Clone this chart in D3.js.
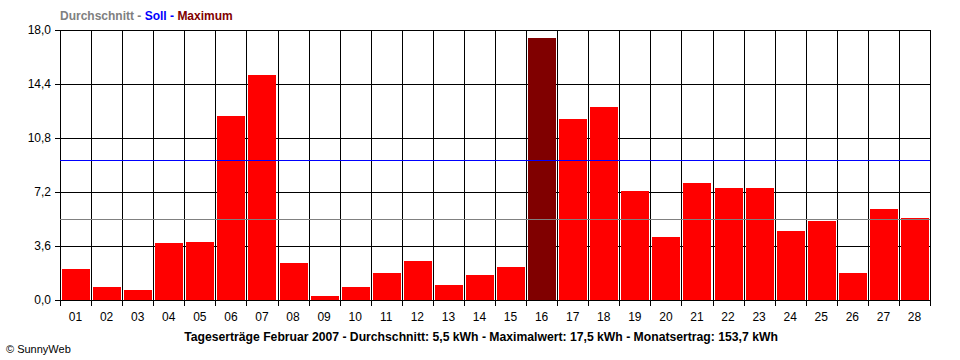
<!DOCTYPE html>
<html>
<head>
<meta charset="utf-8">
<script src="https://cdn.jsdelivr.net/npm/d3@7"></script>
<style>
  html, body { margin: 0; padding: 0; background: #fff; }
  svg { display: block; }
  text { font-family: "Liberation Sans", Arial, sans-serif; }
</style>
</head>
<body>
<svg id="chart" width="960" height="360"></svg>
<script>
const days = ["01","02","03","04","05","06","07","08","09","10","11","12","13","14","15","16","17","18","19","20","21","22","23","24","25","26","27","28"];
const values = [2.1,0.9,0.7,3.8,3.9,12.3,15.0,2.5,0.3,0.9,1.8,2.6,1.0,1.7,2.2,17.5,12.1,12.9,7.3,4.2,7.8,7.5,7.5,4.6,5.3,1.8,6.1,5.5];
const yTicks = [0, 3.6, 7.2, 10.8, 14.4, 18.0];
const averageValue = 5.4;
const targetValue = 9.3;
const legendParts = [
  {text: "Durchschnitt", color: "#808080"},
  {text: " - ", color: "#808080"},
  {text: "Soll", color: "#0000ff"},
  {text: " - ", color: "#0000ff"},
  {text: "Maximum", color: "#800000"}
];
const titleText = "Tageserträge Februar 2007 - Durchschnitt: 5,5 kWh - Maximalwert: 17,5 kWh - Monatsertrag: 153,7 kWh";
const creditText = "© SunnyWeb";

const svg = d3.select("#chart");
const L = 60, R = 930, T = 30, B = 300;
const x = d3.scaleBand().domain(days).range([L, R]).padding(0);
const y = d3.scaleLinear().domain([0, 18]).range([B, T]);
const maxV = d3.max(values);
const data = days.map((d, i) => ({day: d, v: values[i]}));
const px = v => Math.round(v) + 0.5;

// horizontal grid
svg.append("g").selectAll("line").data(yTicks).join("line")
  .attr("x1", L - 5).attr("x2", R)
  .attr("y1", d => px(y(d))).attr("y2", d => px(y(d)))
  .attr("stroke", "#000").attr("stroke-width", 1).attr("shape-rendering", "crispEdges");

// vertical grid (column boundaries) with ticks below
const bounds = days.map(d => x(d)).concat([R]);
svg.append("g").selectAll("line").data(bounds).join("line")
  .attr("x1", d => px(d)).attr("x2", d => px(d))
  .attr("y1", T).attr("y2", B + 6)
  .attr("stroke", "#000").attr("stroke-width", 1).attr("shape-rendering", "crispEdges");

// bars
svg.append("g").selectAll("rect").data(data).join("rect")
  .attr("x", d => Math.round(x(d.day)) + 2)
  .attr("width", x.bandwidth() - 3)
  .attr("y", d => y(d.v))
  .attr("height", d => B - y(d.v))
  .attr("fill", d => d.v === maxV ? "#800000" : "#ff0000")
  .attr("shape-rendering", "crispEdges");

// average and target lines
svg.append("line")
  .attr("x1", L).attr("x2", R)
  .attr("y1", px(y(averageValue))).attr("y2", px(y(averageValue)))
  .attr("stroke", "#808080").attr("stroke-width", 1).attr("shape-rendering", "crispEdges");
svg.append("line")
  .attr("x1", L).attr("x2", R)
  .attr("y1", px(y(targetValue))).attr("y2", px(y(targetValue)))
  .attr("stroke", "#0000ff").attr("stroke-width", 1).attr("shape-rendering", "crispEdges");

// bottom axis line
svg.append("line").attr("x1", L).attr("x2", R + 1).attr("y1", B + 0.5).attr("y2", B + 0.5)
  .attr("stroke", "#000").attr("shape-rendering", "crispEdges");

// y labels
svg.append("g").selectAll("text").data(yTicks).join("text")
  .attr("x", 51).attr("y", d => y(d) + 4)
  .attr("text-anchor", "end").attr("font-size", 12).attr("fill", "#000")
  .text(d => d3.format(".1f")(d).replace(".", ","));

// x labels
svg.append("g").selectAll("text").data(days).join("text")
  .attr("x", d => x(d) + x.bandwidth() / 2).attr("y", 321)
  .attr("text-anchor", "middle").attr("font-size", 12).attr("fill", "#000")
  .text(d => d);

// legend
const leg = svg.append("text").attr("x", L).attr("y", 20)
  .attr("font-size", 12).attr("font-weight", "bold");
leg.selectAll("tspan").data(legendParts).join("tspan")
  .attr("fill", d => d.color).attr("xml:space", "preserve")
  .style("white-space", "pre")
  .text(d => d.text);

// title
svg.append("text").attr("x", 481).attr("y", 341)
  .attr("text-anchor", "middle").attr("font-size", 12.2).attr("font-weight", "bold")
  .attr("fill", "#000").text(titleText);

// credit
svg.append("text").attr("x", 6).attr("y", 353)
  .attr("font-size", 11).attr("fill", "#000").text(creditText);
</script>
</body>
</html>
